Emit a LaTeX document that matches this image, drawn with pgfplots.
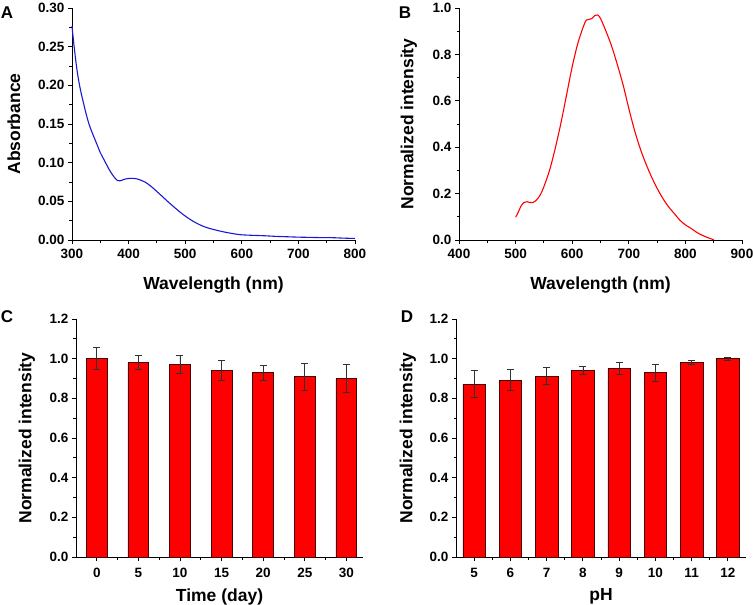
\documentclass[border=0pt]{standalone}
\usepackage{fontspec}
\setmainfont{Liberation Sans}
\usepackage{pgfplots}
\pgfplotsset{compat=1.18}

\definecolor{curveblue}{RGB}{25,25,210}
\definecolor{barborder}{RGB}{70,0,0}
\definecolor{errgray}{RGB}{50,50,50}

\pgfplotsset{
  panel/.style={
    scale only axis,
    axis x line=bottom, axis y line=left,
    axis line style={-, line width=0.9pt},
    tick align=outside,
    major tick length=4pt, minor tick length=2.5pt,
    tick style={black, line width=0.9pt},
    /pgf/number format/assume math mode=true,
    ticklabel style={font=\fontsize{13.5}{13.5}\selectfont\bfseries},
    label style={font=\fontsize{17.5}{18}\selectfont\bfseries},
    clip=false,
  },
  bars/.style={
    ybar, fill=red, draw=barborder, line width=0.6pt,
    error bars/y dir=both, error bars/y explicit,
    error bars/error bar style={errgray, line width=0.7pt},
    error bars/error mark options={rotate=90, mark size=3.5pt, errgray, line width=0.7pt},
  },
}

\begin{document}
\begin{tikzpicture}
\path[use as bounding box] (0,0) rectangle (753pt,-605pt);

% A: absorbance
\begin{axis}[panel,
  at={(72pt,-240pt)}, anchor=south west,
  width=283pt, height=232pt,
  xmin=300, xmax=800, ymin=0, ymax=0.30,
  xtick={300,400,...,800}, ytick={0,0.05,...,0.30},
  minor x tick num=1, minor y tick num=1,
  yticklabel style={/pgf/number format/.cd, fixed, fixed zerofill, precision=2},
  xticklabel style={yshift=-2pt},
  xlabel={Wavelength (nm)}, ylabel={Absorbance},
  xlabel style={at={(axis description cs:0.5,-0.2155)}, anchor=base},
  ylabel style={at={(axis description cs:-0.205,0.5)}, anchor=center},
]
\addplot[curveblue, line width=1.1pt, smooth] coordinates {
(300,0.277) (302,0.262) (306,0.236) (310,0.214) (315,0.194) (320,0.178)
(325,0.163) (330,0.150) (335,0.140) (340,0.131) (345,0.122) (350,0.113)
(355,0.106) (360,0.099) (365,0.092) (370,0.086) (375,0.081) (380,0.0770)
(385,0.0765) (390,0.0778) (395,0.0790) (400,0.0795) (405,0.0798) (410,0.0796)
(415,0.0790) (420,0.0778) (430,0.0745) (440,0.0692) (450,0.0627) (460,0.0560)
(470,0.0492) (480,0.0428) (490,0.0366) (500,0.0310) (510,0.0260) (520,0.0218)
(530,0.0183) (540,0.0156) (550,0.0136) (560,0.0118) (570,0.0102) (580,0.0088)
(590,0.0076) (600,0.0067) (620,0.0060) (640,0.0055) (660,0.0047) (680,0.0042)
(700,0.0037) (720,0.0034) (740,0.0031) (760,0.0030) (780,0.0024) (800,0.0020)
};
\end{axis}

% B: emission
\begin{axis}[panel,
  at={(459pt,-240pt)}, anchor=south west,
  width=283pt, height=232pt,
  xmin=400, xmax=900, ymin=0, ymax=1.0,
  xtick={400,500,...,900}, ytick={0,0.2,...,1.0},
  minor x tick num=1, minor y tick num=1,
  yticklabel style={/pgf/number format/.cd, fixed, fixed zerofill, precision=1},
  xticklabel style={yshift=-2pt},
  xlabel={Wavelength (nm)}, ylabel={Normalized intensity},
  xlabel style={at={(axis description cs:0.5,-0.2155)}, anchor=base},
  ylabel style={at={(axis description cs:-0.177,0.5)}, anchor=center},
]
\addplot[red, line width=1.1pt, smooth] coordinates {
(500,0.098) (505,0.122) (510,0.148) (515,0.162) (520,0.165) (525,0.162)
(530,0.161) (535,0.168) (540,0.181) (545,0.201) (550,0.230) (560,0.300)
(570,0.395) (580,0.503) (590,0.625) (600,0.747) (610,0.848) (620,0.922)
(625,0.948) (630,0.951) (635,0.955) (640,0.968) (645,0.970) (650,0.955)
(660,0.898) (670,0.833) (680,0.754) (690,0.668) (700,0.567) (710,0.474)
(720,0.395) (730,0.330) (740,0.273) (750,0.223) (760,0.180) (770,0.144)
(780,0.115) (790,0.086) (800,0.065) (810,0.050) (820,0.033) (830,0.020)
(840,0.010) (850,0.001)
};
\end{axis}

% C: time stability
\begin{axis}[panel,
  at={(76pt,-557pt)}, anchor=south west,
  width=287pt, height=238pt,
  xmin=-2.5, xmax=32, ymin=0, ymax=1.2,
  xtick={0,5,...,30}, ytick={0,0.2,...,1.2},
  minor x tick num=1, minor y tick num=1,
  yticklabel style={/pgf/number format/.cd, fixed, fixed zerofill, precision=1},
  xticklabel style={yshift=-4pt},
  xlabel={Time (day)}, ylabel={Normalized intensity},
  xlabel style={at={(axis description cs:0.5,-0.185)}, anchor=base},
  ylabel style={at={(axis description cs:-0.171,0.5)}, anchor=center},
]
\addplot[bar width=2.5, bars] coordinates {
(0,1.00) +- (0,0.056)
(5,0.98) +- (0,0.035)
(10,0.97) +- (0,0.045)
(15,0.94) +- (0,0.050)
(20,0.93) +- (0,0.037)
(25,0.91) +- (0,0.068)
(30,0.90) +- (0,0.071)
};
\end{axis}

% D: pH stability
\begin{axis}[panel,
  at={(456pt,-557pt)}, anchor=south west,
  width=290pt, height=238pt,
  xmin=4.5, xmax=12.5, ymin=0, ymax=1.2,
  xtick={5,...,12}, ytick={0,0.2,...,1.2},
  minor x tick num=1, minor y tick num=1,
  yticklabel style={/pgf/number format/.cd, fixed, fixed zerofill, precision=1},
  xticklabel style={yshift=-4pt},
  xlabel={pH}, ylabel={Normalized intensity},
  xlabel style={at={(axis description cs:0.5,-0.181)}, anchor=base},
  ylabel style={at={(axis description cs:-0.166,0.5)}, anchor=center},
]
\addplot[bar width=0.62, bars] coordinates {
(5,0.872) +- (0,0.068)
(6,0.892) +- (0,0.052)
(7,0.912) +- (0,0.042)
(8,0.940) +- (0,0.020)
(9,0.950) +- (0,0.030)
(10,0.930) +- (0,0.043)
(11,0.980) +- (0,0.010)
(12,1.000) +- (0,0.009)
};
\end{axis}

\begin{scope}[font=\fontsize{17}{17}\selectfont\bfseries]
\node at (7pt,-13pt) {A};
\node at (405pt,-13pt) {B};
\node at (7pt,-317pt) {C};
\node at (407pt,-317pt) {D};
\end{scope}
\end{tikzpicture}
\end{document}
